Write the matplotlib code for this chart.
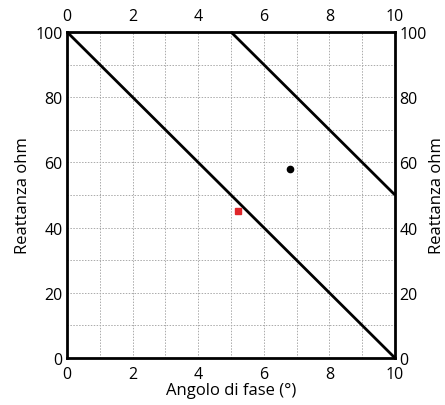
import numpy as np
import matplotlib
matplotlib.use("Agg")
import matplotlib.pyplot as plt

# values
line1_x = [0, 10]
line1_y = [100, 0]
line2_x = [5, 10]
line2_y = [100, 50]
red_x = [5.2]
red_y = [45]
black_x = [6.8]
black_y = [58]
x_ticks = [0, 2, 4, 6, 8, 10]
y_ticks = [0, 20, 40, 60, 80, 100]

plt.rcParams['font.family'] = ['Open Sans', 'DejaVu Sans']

fig = plt.figure(figsize=(4.45, 4.06), dpi=100)
ax = fig.add_axes([0.1506, 0.1158, 0.737, 0.803])

ax.set_xlim(0, 10)
ax.set_ylim(0, 100)
ax.set_xticks(x_ticks)
ax.set_xticks(np.arange(1, 10, 2), minor=True)
ax.set_yticks(y_ticks)
ax.set_yticks(np.arange(10, 100, 20), minor=True)
ax.grid(True, which='both', color='#aaaaaa', linestyle=(0, (1.5, 1.5)), linewidth=0.7)

ax.plot(line1_x, line1_y, color='black', linewidth=2, solid_capstyle='butt', clip_on=False)
ax.plot(line2_x, line2_y, color='black', linewidth=2, solid_capstyle='butt', clip_on=False)
ax.plot(red_x, red_y, 's', color='#e0262a', markersize=4.5)
ax.plot(black_x, black_y, 'o', color='black', markersize=4.5)

for s in ax.spines.values():
    s.set_linewidth(2)

ax.tick_params(axis='x', which='both', length=0, labelsize=11.5, pad=6,
               top=True, labeltop=True)
ax.tick_params(axis='y', which='both', length=0, labelsize=11.5, pad=3)
ax.set_xlabel('Angolo di fase (°)', fontsize=12, labelpad=0)
ax.set_ylabel('Reattanza ohm', fontsize=12, labelpad=3)

ax2 = ax.twinx()
ax2.set_ylim(0, 100)
ax2.set_yticks(y_ticks)
ax2.tick_params(length=0, labelsize=11.5, pad=3)
ax2.set_ylabel('Reattanza ohm', fontsize=12, rotation=90, labelpad=2)
for s in ax2.spines.values():
    s.set_visible(False)

fig.savefig('out.png', dpi=100)
